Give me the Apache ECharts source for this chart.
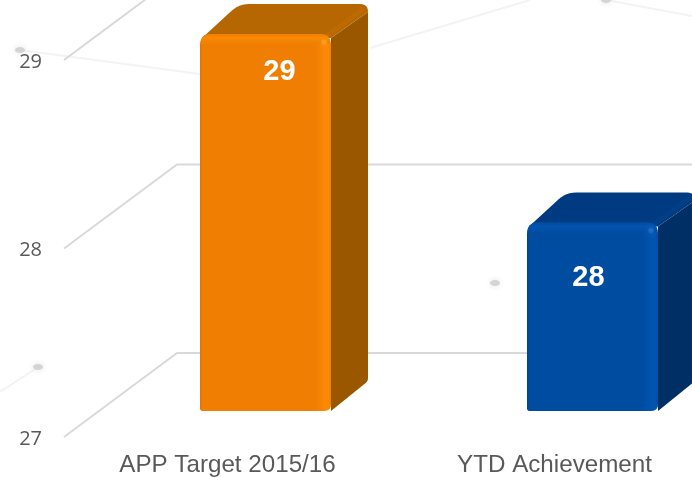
<!DOCTYPE html>
<html>
<head>
<meta charset="utf-8">
<style>html,body{margin:0;padding:0;background:#fff}#c{width:692px;height:477px}</style>
<script src="https://cdn.jsdelivr.net/npm/echarts@6/dist/echarts.min.js"></script>
</head>
<body>
<div id="c"></div>
<script>
const categories = ['APP Target 2015/16', 'YTD Achievement'];
const values = [29, 28];
const yTicks = [27, 28, 29];

const palette = [
  {front:'#ef7e02', edge:'#fb8905', dark:'#dd7400', top:'#b76701', side:'#9b5700', ridge:'#bd6a02', glow:'#ff9a1a'},
  {front:'#004ca1', edge:'#0254ae', dark:'#00448f', top:'#003a80', side:'#002f66', ridge:'#003f88', glow:'#1a6cc8'}
];
const labelNudge = [[14, 38], [-4, 55]];
const PLANE = {dx:113, dy:84};
const BAR = {dx:38, dy:26, depthX:37, depthY:30, halfW:65.5};

function rounded(pts, radii) {
  const out = [];
  const n = pts.length;
  for (let i = 0; i < n; i++) {
    const p = pts[i], a = pts[(i + n - 1) % n], b = pts[(i + 1) % n], r = radii[i];
    if (!r) { out.push(p); continue; }
    const la = Math.hypot(a[0]-p[0], a[1]-p[1]), lb = Math.hypot(b[0]-p[0], b[1]-p[1]);
    const s = [p[0]+(a[0]-p[0])*r/la, p[1]+(a[1]-p[1])*r/la];
    const e = [p[0]+(b[0]-p[0])*r/lb, p[1]+(b[1]-p[1])*r/lb];
    for (let t = 0; t <= 6; t++) {
      const u = t/6, v = 1-u;
      out.push([v*v*s[0]+2*u*v*p[0]+u*u*e[0], v*v*s[1]+2*u*v*p[1]+u*u*e[1]]);
    }
  }
  return out;
}

function renderGrid(params, api) {
  const v = api.value(0);
  const left = params.coordSys.x;
  const y = api.coord([0, v])[1];
  const st = {stroke:'#d9d9d9', lineWidth:2, fill:'none'};
  return {type:'group', children:[
    {type:'polyline', shape:{points:[[left, y], [left+PLANE.dx, y-PLANE.dy], [700, y-PLANE.dy]]}, style:st}
  ]};
}

function renderBar(params, api) {
  const i = params.dataIndex;
  const c = palette[i];
  const base = api.coord([i, yTicks[0]]);
  const top = api.coord([i, api.value(1)]);
  const cx = base[0] + BAR.dx;
  const x0 = cx - BAR.halfW, x1 = cx + BAR.halfW;
  const yb = base[1] - BAR.dy, yt = top[1] - BAR.dy;
  const dx = BAR.depthX, dy = BAR.depthY;
  const grad = {type:'linear', x:0, y:0, x2:1, y2:0, colorStops:[
    {offset:0, color:c.dark},{offset:0.02, color:c.front},{offset:0.88, color:c.front},
    {offset:0.95, color:c.edge},{offset:0.985, color:c.edge},{offset:1, color:c.front}]};
  const band = {type:'linear', x:0, y:0, x2:0, y2:1, colorStops:[
    {offset:0, color:c.front},{offset:0.4, color:c.edge},{offset:1, color:c.front}]};
  return {type:'group', children:[
    {type:'polygon', shape:{points:rounded([[x1,yt+4],[x1+dx,yt-dy+8],[x1+dx,yb-dy],[x1,yb]],[0,0,3,0])},
      style:{fill:c.side}},
    {type:'polygon', shape:{points:rounded([[x0+2,yt+4],[x0+dx+2,yt-dy],[x1+dx,yt-dy],[x1+dx,yt-dy+8],[x1,yt+4]],[0,10,8,0,0])},
      style:{fill:c.top}},
    {type:'line', shape:{x1:x1-3, y1:yt+1, x2:x1+dx-6, y2:yt-dy+6},
      style:{stroke:c.ridge, lineWidth:5, lineCap:'round'}},
    {type:'polygon', shape:{points:rounded([[x0,yt],[x1,yt],[x1,yb],[x0,yb]],[11,11,7,3])},
      style:{fill:grad}},
    {type:'polygon', shape:{points:rounded([[x0+1,yt],[x1-1,yt],[x1-1,yt+10],[x0+1,yt+10]],[10,10,0,0])},
      style:{fill:band}},
    {type:'circle', shape:{cx:x1-7, cy:yt+8, r:2.5}, style:{fill:c.glow, shadowBlur:4, shadowColor:c.glow}},
    {type:'text', x:cx+labelNudge[i][0], y:yt+labelNudge[i][1],
      style:{text:String(api.value(1)), fill:'#fff', font:'bold 29px "Liberation Sans"', align:'center', verticalAlign:'middle'}}
  ]};
}

const faint = {stroke:'#f3f3f3', lineWidth:2, fill:'none'};
const spot = (x, y) => ({type:'ellipse', silent:true, z:-1, shape:{cx:x, cy:y, rx:5, ry:3},
  style:{fill:'#d4d4d4', shadowBlur:6, shadowColor:'#e0e0e0'}});
const thin = (pts) => ({type:'polyline', silent:true, z:-1, shape:{points:pts}, style:faint});

const chart = echarts.init(document.getElementById('c'));
chart.setOption({
  animation:false,
  backgroundColor:'#fff',
  graphic:[
    thin([[20,50],[200,74]]), thin([[38,367],[0,392]]),
    thin([[370,48],[530,0]]), thin([[606,0],[692,16]]),
    spot(20,50), spot(38,367), spot(495,283), spot(606,0)
  ],
  grid:{left:64, top:60, width:654, height:377, containLabel:false, outerBoundsMode:'none'},
  xAxis:{type:'category', data:categories, axisLine:{show:false}, axisTick:{show:false},
    axisLabel:{color:'#595959', fontFamily:'Liberation Sans', fontSize:24.2, margin:16, interval:0}},
  yAxis:{type:'value', min:yTicks[0], max:yTicks[yTicks.length-1], interval:1,
    axisLine:{show:false}, axisTick:{show:false}, splitLine:{show:false},
    axisLabel:{fontSize:20, margin:22, formatter:'{n|{value}}',
      rich:{n:{color:'#595959', fontFamily:'Open Sans', fontSize:20, padding:[4,0,0,0]}}}},
  series:[
    {type:'custom', coordinateSystem:'cartesian2d', clip:false, silent:true, z:1,
      encode:{y:0}, data:yTicks.map(v=>[v]), renderItem:renderGrid},
    {type:'custom', coordinateSystem:'cartesian2d', clip:false, silent:true, z:2,
      encode:{x:0,y:1}, data:values.map((v,i)=>[i,v]), renderItem:renderBar}
  ]
});
</script>
</body>
</html>
